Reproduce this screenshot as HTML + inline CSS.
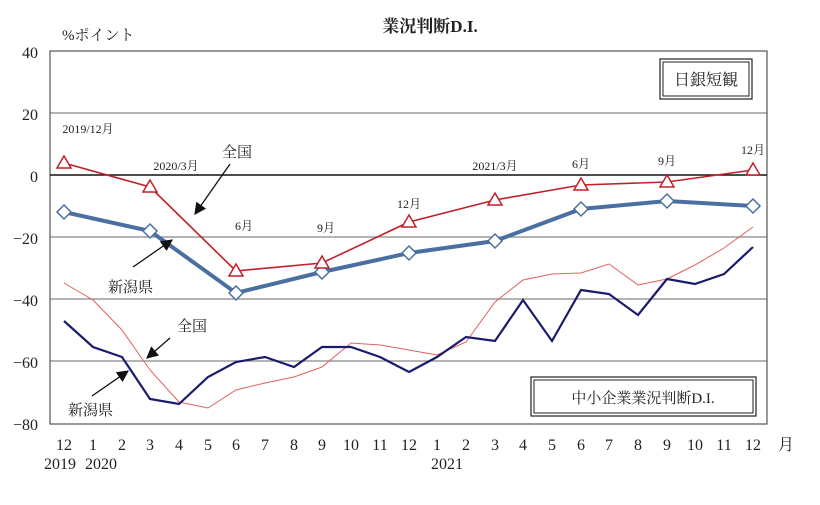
<!DOCTYPE html>
<html><head><meta charset="utf-8"><style>
body{margin:0;background:#fff;}
svg text{font-family:"Liberation Serif","Noto Serif CJK JP","Noto Serif CJK SC",serif;fill:#222;}
</style></head><body>
<svg width="820" height="500" xmlns="http://www.w3.org/2000/svg">
<defs><marker id="ah" markerWidth="8" markerHeight="8" refX="7" refY="4" orient="auto" markerUnits="userSpaceOnUse"><path d="M0,0 L8,4 L0,8 z" fill="#111"/></marker>
<marker id="ah2" viewBox="0 0 10 10" markerWidth="12" markerHeight="12" refX="9" refY="5" orient="auto" markerUnits="userSpaceOnUse"><path d="M0,0 L10,5 L0,10 z" fill="#111"/></marker></defs>
<text x="430" y="32" font-size="17" font-weight="bold" text-anchor="middle">業況判断D.I.</text>
<text x="62" y="40" font-size="15">%ポイント</text>
<g stroke="#888" stroke-width="1.2">
<line x1="50" y1="113" x2="767" y2="113"/><line x1="50" y1="237" x2="767" y2="237"/>
<line x1="50" y1="299" x2="767" y2="299"/><line x1="50" y1="361" x2="767" y2="361"/>
</g>
<rect x="50" y="51" width="717" height="373" fill="none" stroke="#555" stroke-width="1.2"/>
<line x1="50" y1="175" x2="767" y2="175" stroke="#111" stroke-width="1.5"/>
<g font-size="16" text-anchor="end">
<text x="38" y="58">40</text><text x="38" y="120">20</text><text x="38" y="182">0</text>
<text x="38" y="244">−20</text><text x="38" y="306">−40</text><text x="38" y="368">−60</text><text x="38" y="430">−80</text>
</g>
<g font-size="16" text-anchor="middle">
<text x="64" y="450">12</text><text x="93" y="450">1</text><text x="122" y="450">2</text><text x="150" y="450">3</text><text x="179" y="450">4</text><text x="208" y="450">5</text><text x="236" y="450">6</text><text x="265" y="450">7</text><text x="294" y="450">8</text><text x="322" y="450">9</text><text x="351" y="450">10</text><text x="380" y="450">11</text><text x="409" y="450">12</text><text x="437" y="450">1</text><text x="466" y="450">2</text><text x="495" y="450">3</text><text x="523" y="450">4</text><text x="552" y="450">5</text><text x="581" y="450">6</text><text x="609" y="450">7</text><text x="638" y="450">8</text><text x="667" y="450">9</text><text x="695" y="450">10</text><text x="724" y="450">11</text><text x="753" y="450">12</text>
<text x="786" y="450">月</text>
<text x="60" y="469">2019</text><text x="101" y="469">2020</text><text x="447" y="469">2021</text>
</g>
<!-- SME lines -->
<polyline fill="none" stroke="#e06060" stroke-width="1" points="64,283 93,300 122,330 150,370 179,402 208,408 236,390 265,383 294,377 322,367 351,343 380,345 409,350 437,355 466,342 495,302 523,280 552,274 581,273 609,264 638,285 667,279 695,265 724,248 753,227"/>
<polyline fill="none" stroke="#1a1a6e" stroke-width="2.2" points="64,321 93,347 122,357 150,399 179,404 208,377 236,362 265,357 294,367 322,347 351,347 380,357 409,372 437,357 466,337 495,341 523,300 552,341 581,290 609,294 638,315 667,279 695,284 724,274 753,247"/>
<!-- Tankan -->
<polyline fill="none" stroke="#4a6fa0" stroke-width="4" points="64,212 150,231 236,293 322,272 409,253 495,241 581,209 667,201 753,206"/>
<polyline fill="none" stroke="#c0202a" stroke-width="1.6" points="64,163 150,187 236,271 322,263 409,222 495,200 581,185 667,182 753,170"/>
<g fill="#fff" stroke="#4a6fa0" stroke-width="1.5">
<path d="M64,205 l7,7 l-7,7 l-7,-7z"/><path d="M150,224 l7,7 l-7,7 l-7,-7z"/><path d="M236,286 l7,7 l-7,7 l-7,-7z"/><path d="M322,265 l7,7 l-7,7 l-7,-7z"/><path d="M409,246 l7,7 l-7,7 l-7,-7z"/><path d="M495,234 l7,7 l-7,7 l-7,-7z"/><path d="M581,202 l7,7 l-7,7 l-7,-7z"/><path d="M667,194 l7,7 l-7,7 l-7,-7z"/><path d="M753,199 l7,7 l-7,7 l-7,-7z"/>
</g>
<g fill="#fff" stroke="#c0202a" stroke-width="1.5">
<path d="M64,156 l7,12 h-14z"/><path d="M150,180 l7,12 h-14z"/><path d="M236,264 l7,12 h-14z"/><path d="M322,256 l7,12 h-14z"/><path d="M409,215 l7,12 h-14z"/><path d="M495,193 l7,12 h-14z"/><path d="M581,178 l7,12 h-14z"/><path d="M667,175 l7,12 h-14z"/><path d="M753,163 l7,12 h-14z"/>
</g>
<g font-size="12" text-anchor="middle">
<text x="88" y="133">2019/12月</text><text x="176" y="170">2020/3月</text><text x="244" y="230">6月</text><text x="326" y="232">9月</text><text x="409" y="208">12月</text><text x="495" y="170">2021/3月</text><text x="581" y="168">6月</text><text x="667" y="165">9月</text><text x="753" y="154">12月</text>
</g>
<g font-size="15">
<text x="222" y="157">全国</text><text x="108" y="292">新潟県</text>
<text x="177" y="331">全国</text><text x="68" y="415">新潟県</text>
</g>
<g stroke="#111" stroke-width="1.3">
<line x1="230" y1="164" x2="195" y2="214" marker-end="url(#ah2)"/>
<line x1="133" y1="267" x2="172" y2="240" marker-end="url(#ah2)"/>
<line x1="170" y1="338" x2="147" y2="358" marker-end="url(#ah2)"/>
<line x1="92" y1="396" x2="128" y2="371" marker-end="url(#ah2)"/>
</g>
<rect x="660" y="59" width="92" height="40" fill="#fff" stroke="#222" stroke-width="1.2"/>
<rect x="663" y="62" width="86" height="34" fill="none" stroke="#222" stroke-width="1"/>
<text x="706" y="85" font-size="16" text-anchor="middle">日銀短観</text>
<rect x="531" y="377" width="225" height="39" fill="#fff" stroke="#222" stroke-width="1.2"/>
<rect x="534" y="380" width="219" height="33" fill="none" stroke="#222" stroke-width="1"/>
<text x="643" y="403" font-size="15" text-anchor="middle">中小企業業況判断D.I.</text>
</svg>
</body></html>
